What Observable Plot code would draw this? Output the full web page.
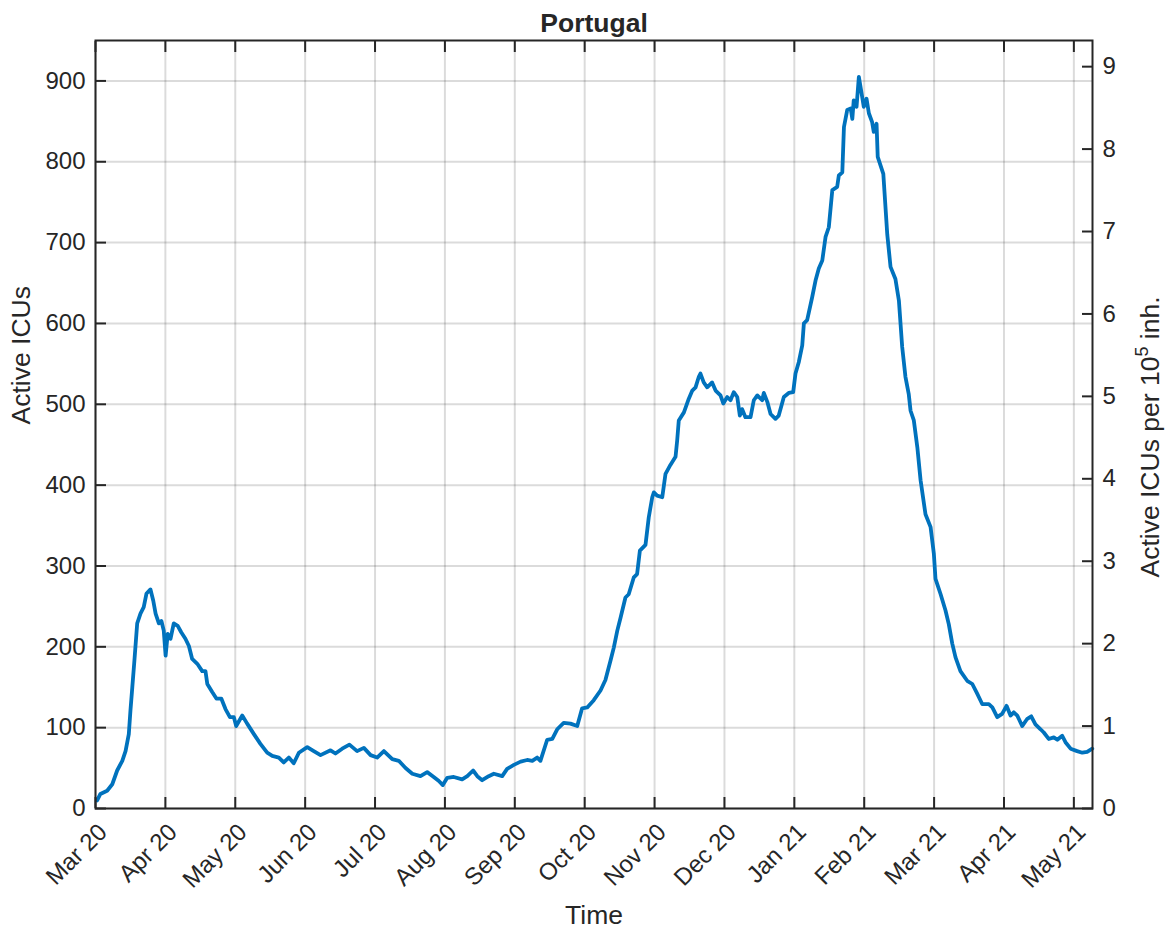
<!DOCTYPE html>
<html><head><meta charset="utf-8">
<script src="https://cdn.jsdelivr.net/npm/d3@7"></script>
<script src="https://cdn.jsdelivr.net/npm/@observablehq/plot@0.6"></script>
<style>body{margin:0;background:#fff}</style>
</head><body><div id="chart"></div>
<script>
const title = "Portugal";
const xTitle = "Time";
const yTitle = "Active ICUs";
const xLabels = ["Mar 20","Apr 20","May 20","Jun 20","Jul 20","Aug 20","Sep 20","Oct 20","Nov 20","Dec 20","Jan 21","Feb 21","Mar 21","Apr 21","May 21"];
const tickStep = 30; // days between labelled ticks
const yTicks = [0,100,200,300,400,500,600,700,800,900];
const rightTicks = [0,1,2,3,4,5,6,7,8,9];
const perCapitaFactor = 101.96; // population / 1e5

// day index (days since series start) and active ICU patients
const days = [
 0.7,2.1,5.0,7.2,9.3,11.5,12.9,14.3,15.0,15.8,
 16.7,17.9,19.3,20.7,21.9,23.6,24.8,25.8,27.2,28.3,
 29.3,30.1,31.0,32.2,33.6,35.3,36.8,38.6,40.1,41.5,
 43.7,45.8,47.2,48.0,50.1,51.9,54.0,55.8,57.7,59.4,
 60.4,63.0,65.1,68.0,70.8,73.7,75.9,78.7,80.8,83.0,
 85.1,87.3,90.9,93.7,96.6,100.9,103.0,105.9,109.0,112.3,
 115.2,118.1,120.9,123.8,127.4,130.2,133.1,136.0,139.5,142.4,
 145.2,147.4,149.1,151.0,153.8,157.4,159.6,162.1,163.9,166.0,
 168.8,171.0,174.6,176.7,179.6,182.5,185.3,187.5,189.6,191.0,
 193.9,196.1,198.2,201.0,203.9,206.8,208.9,211.1,213.9,216.8,
 218.9,221.1,222.5,224.0,225.4,227.5,228.9,231.1,232.5,233.7,
 236.1,237.5,239.0,239.7,241.1,243.3,244.7,246.8,249.0,249.7,
 250.4,252.6,254.7,256.2,257.6,259.0,259.7,261.1,262.6,264.7,
 266.2,268.3,269.5,271.2,272.6,274.0,275.5,276.6,277.6,279.0,
 281.2,282.6,284.1,286.2,286.9,288.4,289.8,291.9,293.3,295.5,
 297.6,299.5,300.5,301.9,303.4,304.1,305.5,307.7,309.1,310.5,
 312.0,313.4,314.8,316.3,318.4,319.1,320.6,321.3,322.7,324.2,
 324.9,325.5,326.7,327.7,328.8,329.8,331.0,332.0,333.4,334.1,
 335.3,335.8,338.2,339.9,341.3,343.4,344.9,346.3,347.7,349.1,
 349.9,351.3,352.8,354.2,356.3,358.5,359.9,360.6,362.8,364.9,
 366.3,367.8,369.2,371.3,374.2,376.4,378.5,380.7,383.5,385.0,
 387.1,389.2,391.1,392.8,394.2,395.7,397.8,400.0,401.7,403.5,
 405.7,407.1,409.2,411.4,412.9,415.0,416.4,418.6,421.4,423.6,
 425.7,427.9
];
const icu = [
 10,18,22,30,47,59,71,92,121,150,
 183,229,241,249,266,271,257,241,229,232,
 220,189,216,210,229,226,218,210,201,185,
 179,170,170,154,144,136,136,123,113,113,
 102,115,105,92,80,69,65,63,57,63,
 56,69,76,71,66,72,68,74,79,71,
 75,66,63,71,61,59,50,43,40,45,
 39,34,29,38,39,36,40,47,40,35,
 40,43,40,49,54,58,60,59,63,59,
 85,86,98,106,105,102,124,125,134,146,
 159,183,199,220,236,261,265,286,290,319,
 326,360,385,391,387,385,414,425,435,455,
 480,490,507,517,521,534,538,527,521,527,
 517,511,501,509,505,515,509,486,494,484,
 484,505,511,505,514,503,488,482,486,509,
 514,515,538,552,573,600,604,633,653,668,
 678,707,719,765,769,783,787,843,864,866,
 853,876,868,905,886,868,878,860,849,837,
 847,806,785,710,670,655,628,571,534,513,
 492,480,447,406,364,348,315,284,265,245,
 228,204,187,170,158,154,142,129,129,125,
 113,117,127,115,119,115,102,111,114,104,
 98,94,86,88,85,90,82,74,71,69,
 70,74
];

const font = "'Liberation Sans', Arial, Helvetica, sans-serif";
const ink = "#262626";
const tickFont = 24, labelFont = 26.5;
const xTicks = xLabels.map((_, i) => i * tickStep);
const rightTickPos = rightTicks.map(v => v * perCapitaFactor);
const data = days.map((d, i) => ({day: d, icu: icu[i]}));
const gridStyle = {stroke: "#000", strokeOpacity: 0.14, strokeWidth: 2};
const tickStyle = {stroke: ink, strokeWidth: 2, tickSize: 11, label: null, tickFormat: () => ""};

const plot = Plot.plot({
  width: 1172, height: 933,
  marginLeft: 95, marginRight: 80, marginTop: 40, marginBottom: 125,
  style: {fontFamily: font, fontSize: tickFont + "px", color: ink, background: "#fff"},
  x: {domain: [0, 428], axis: null},
  y: {domain: [0, 950], axis: null},
  marks: [
    Plot.gridX(xTicks, gridStyle),
    Plot.gridY(yTicks, gridStyle),
    Plot.line(data, {x: "day", y: "icu", stroke: "#0072BD", strokeWidth: 3.8}),
    Plot.axisX(xTicks, {...tickStyle, anchor: "bottom", dy: -11}),
    Plot.axisX(xTicks, {...tickStyle, anchor: "top", dy: 11}),
    Plot.axisY(yTicks, {...tickStyle, anchor: "left", dx: 11}),
    Plot.axisY(rightTickPos, {...tickStyle, anchor: "right", dx: -11}),
    Plot.axisY(yTicks, {anchor: "left", tickSize: 0, tickPadding: 10, label: null, fill: ink, fontSize: tickFont}),
    Plot.axisY(rightTickPos, {anchor: "right", tickSize: 0, tickPadding: 10, label: null, fill: ink, fontSize: tickFont,
      tickFormat: d => String(Math.round(d / perCapitaFactor))}),
    Plot.text(xTicks, {x: d => d, text: (d, i) => xLabels[i], frameAnchor: "bottom", rotate: -45,
      textAnchor: "end", dx: 13, dy: 25, fontSize: tickFont, fill: ink}),
    Plot.text([xTitle], {frameAnchor: "bottom", dy: 115, fontSize: labelFont, fill: ink}),
    Plot.text([yTitle], {frameAnchor: "left", dx: -74, rotate: -90, fontSize: labelFont, fill: ink}),
    Plot.text([title], {frameAnchor: "top", dy: -17, lineAnchor: "middle", fontSize: labelFont, fontWeight: "bold", fill: ink}),
    Plot.frame({stroke: ink, strokeWidth: 2})
  ]
});

// right-hand axis title with superscript
const svg = d3.select(plot);
const t = svg.append("text")
  .attr("transform", "translate(1151,437) rotate(-90)")
  .attr("text-anchor", "middle")
  .attr("dy", "0.32em")
  .attr("fill", ink)
  .attr("font-family", font)
  .attr("font-size", labelFont);
t.append("tspan").text("Active ICUs per 10");
t.append("tspan").attr("dy", -11).attr("font-size", 18).text("5");
t.append("tspan").attr("dy", 11).text(" inh.");

document.getElementById("chart").appendChild(plot);
</script>
</body></html>
